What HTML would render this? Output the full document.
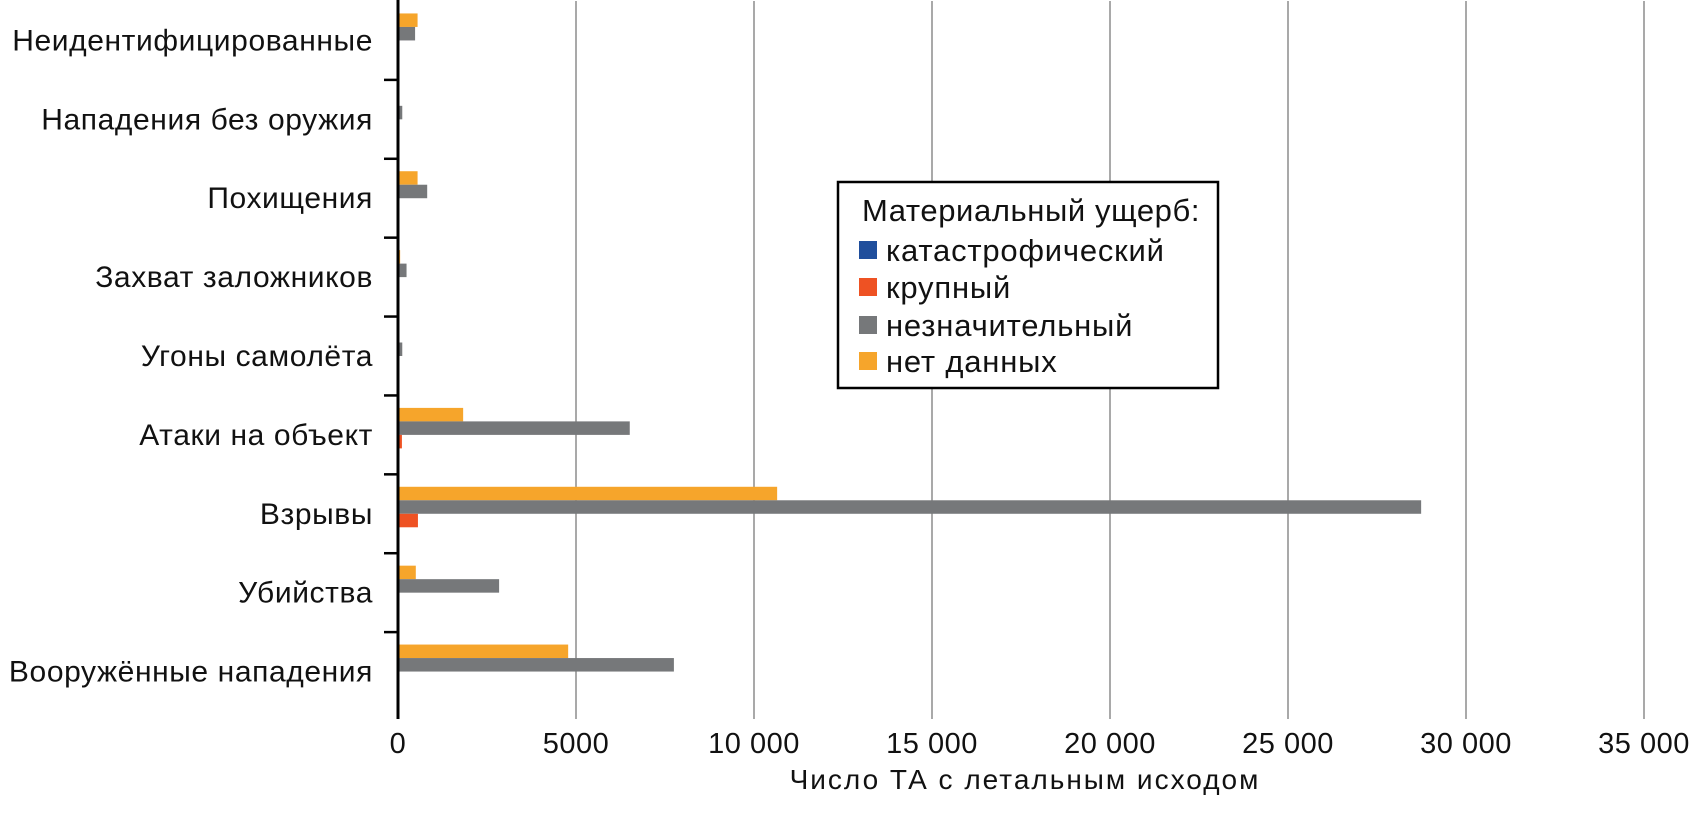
<!DOCTYPE html>
<html><head><meta charset="utf-8">
<style>
html,body{margin:0;padding:0;background:#fff;}
svg{display:block;font-family:"Liberation Sans","DejaVu Sans",sans-serif;}
</style></head>
<body>
<svg id="chart" width="1689" height="820" viewBox="0 0 1689 820">
<g id="grid"></g>
<g id="bars"></g>
<g id="axes"></g>
<text x="1025" y="789" font-size="28" letter-spacing="2" text-anchor="middle" fill="#111">Число ТА с летальным исходом</text>
<g>
<rect x="838" y="182" width="380" height="206" fill="#fff" stroke="#000" stroke-width="2.5"/>
<text x="862" y="221" font-size="31" letter-spacing="0.6" fill="#111">Материальный ущерб:</text>
<g><rect x="859" y="241" width="18" height="18" fill="#1f4e9c"/><text x="886" y="261" font-size="31" letter-spacing="0.8" fill="#111">катастрофический</text></g>
<g><rect x="859" y="278" width="18" height="18" fill="#ee5223"/><text x="886" y="298" font-size="31" letter-spacing="0.8" fill="#111">крупный</text></g>
<g><rect x="859" y="316" width="18" height="18" fill="#76787a"/><text x="886" y="336" font-size="31" letter-spacing="0.8" fill="#111">незначительный</text></g>
<g><rect x="859" y="352" width="18" height="18" fill="#f6a52b"/><text x="886" y="372" font-size="31" letter-spacing="0.8" fill="#111">нет данных</text></g>
</g>
</svg>
<script>
const categories = ["Неидентифицированные","Нападения без оружия","Похищения","Захват заложников","Угоны самолёта","Атаки на объект","Взрывы","Убийства","Вооружённые нападения"];
const noData = [550, 0, 550, 60, 0, 1830, 10650, 500, 4780];
const minor = [480, 120, 820, 240, 120, 6510, 28740, 2840, 7750];
const major = [0, 0, 0, 0, 0, 110, 560, 0, 0];
const catastrophic = [0, 0, 0, 0, 0, 0, 0, 0, 0];
const xTicks = [0, 5000, 10000, 15000, 20000, 25000, 30000, 35000];
const xTickLabels = ["0","5000","10 000","15 000","20 000","25 000","30 000","35 000"];

const NS = "http://www.w3.org/2000/svg";
const X0 = 398, XMAX = 35000, XW = 1246, YTOP = 1, YBOT = 711;
const band = (YBOT - YTOP) / categories.length;
function xs(v){ return X0 + v / XMAX * XW; }
function yc(i){ return YTOP + band * (i + 0.5); }
function mk(tag, attrs, parent){ const e = document.createElementNS(NS, tag); for (const k in attrs) e.setAttribute(k, attrs[k]); parent.appendChild(e); return e; }

const grid = document.getElementById("grid");
const bars = document.getElementById("bars");
const axes = document.getElementById("axes");

xTicks.forEach((t, i) => {
  if (t > 0) {
    const l = mk("line", {x1: xs(t), x2: xs(t), y1: YTOP, y2: YBOT + 8, stroke: "#a9a9a9", "stroke-width": 2}, grid);
    
    
  }
  const tx = mk("text", {x: xs(t), y: 753, "font-size": 29, "letter-spacing": 0.5, "text-anchor": "middle", fill: "#111"}, axes);
  tx.textContent = xTickLabels[i];
  
  
});

const series = [
  {vals: noData, color: "#f6a52b", off: -2, name: "bar-no-data"},
  {vals: minor, color: "#76787a", off: -1, name: "bar-minor"},
  {vals: major, color: "#ee5223", off: 0, name: "bar-major"},
  {vals: catastrophic, color: "#1f4e9c", off: 1, name: "bar-catastrophic"}
];
const bh = 13.5;
categories.forEach((c, i) => {
  const cy = yc(i);
  series.forEach(s => {
    const v = s.vals[i];
    if (v <= 0) return;
    const r = mk("rect", {x: X0, y: cy + s.off * bh, width: xs(v) - X0, height: bh, fill: s.color}, bars);
    
    
  });
  const lab = mk("text", {x: 373, y: cy + 10, "font-size": 30, "letter-spacing": 0.6, "text-anchor": "end", fill: "#111"}, axes);
  lab.textContent = c;
  
  
});
for (let i = 1; i < categories.length; i++) {
  const tk = mk("line", {x1: 384, x2: X0, y1: YTOP + band * i, y2: YTOP + band * i, stroke: "#000", "stroke-width": 2.5}, axes);
  
  
}
const ax = mk("line", {x1: X0, x2: X0, y1: 0, y2: YBOT + 8, stroke: "#000", "stroke-width": 3}, axes);


</script>
</body></html>
